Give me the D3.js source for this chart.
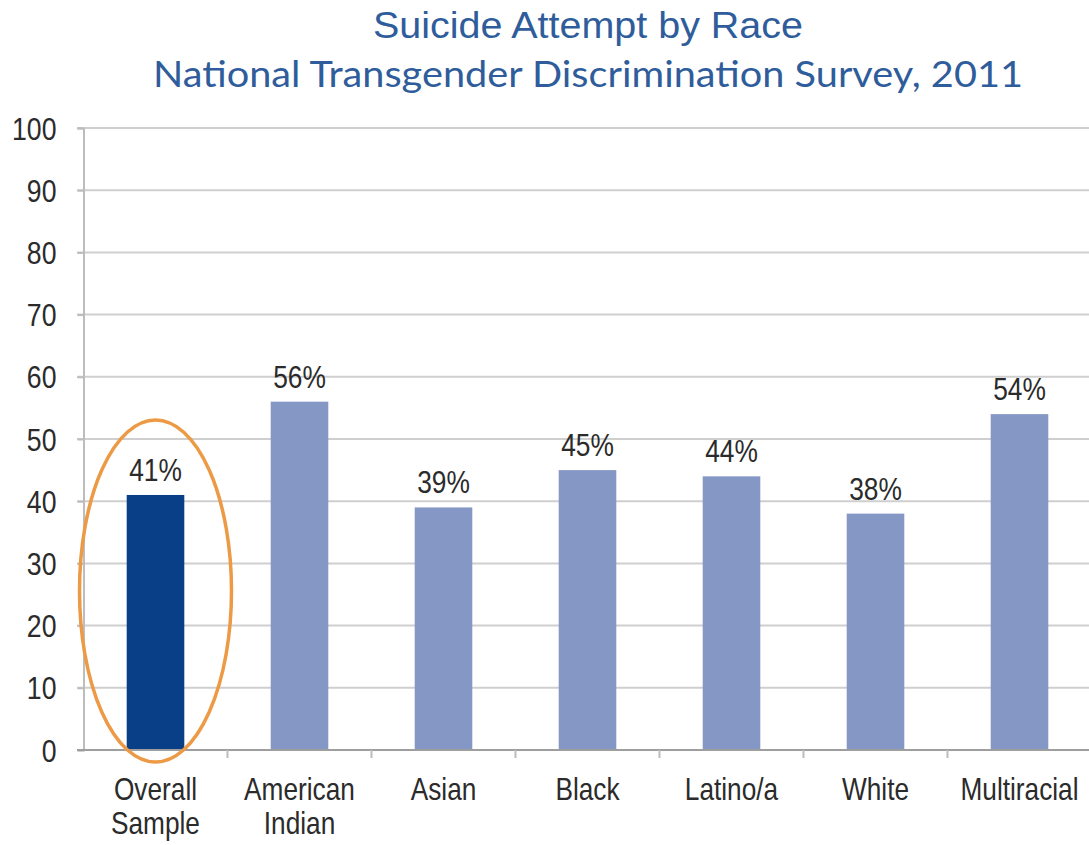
<!DOCTYPE html>
<html>
<head>
<meta charset="utf-8">
<script src="https://cdn.jsdelivr.net/npm/d3@7"></script>
<style>
  html, body { margin: 0; padding: 0; background: #fff; }
  svg { display: block; }
</style>
</head>
<body>
<svg id="chart" width="1089" height="845"></svg>
<script>
// Share of respondents reporting a suicide attempt, by race
const categories = [["Overall", "Sample"], ["American", "Indian"], ["Asian"], ["Black"], ["Latino/a"], ["White"], ["Multiracial"]];
const values = [41, 56, 39, 45, 44, 38, 54];
const yTicks = [0, 10, 20, 30, 40, 50, 60, 70, 80, 90, 100];
const titleLines = ["Suicide Attempt by Race", "National Transgender Discrimination Survey, 2011"];

const W = 1089, H = 845;
const plot = { left: 83.5, right: 1091.5, top: 128, bottom: 750 };
const sans = "'Liberation Sans', Arial, Helvetica, sans-serif";
const ink = "#2b2b2b";

const svg = d3.select("#chart");

const keys = categories.map(c => c.join(" "));
const x = d3.scaleBand().domain(keys).range([plot.left, plot.right]).paddingInner(0.6).paddingOuter(0.3);
const y = d3.scaleLinear().domain([0, 100]).range([plot.bottom, plot.top]);

// Titles
svg.append("text")
  .attr("x", 588).attr("y", 38)
  .attr("text-anchor", "middle")
  .attr("font-family", sans)
  .attr("font-size", 36)
  .attr("textLength", 430)
  .attr("lengthAdjust", "spacingAndGlyphs")
  .attr("fill", "#2f5d9b")
  .text(titleLines[0]);
svg.append("text")
  .attr("x", 588).attr("y", 87)
  .attr("text-anchor", "middle")
  .attr("font-family", "Lato, 'Open Sans', sans-serif")
  .attr("font-size", 36)
  .attr("textLength", 870)
  .attr("lengthAdjust", "spacingAndGlyphs")
  .attr("fill", "#2f5d9b")
  .text(titleLines[1]);

// Horizontal grid lines
svg.append("g")
  .selectAll("line")
  .data(yTicks.filter(d => d > 0))
  .join("line")
  .attr("x1", 77).attr("x2", W)
  .attr("y1", d => y(d)).attr("y2", d => y(d))
  .attr("stroke", "#cfcfcf")
  .attr("stroke-width", 2);

// Y axis with condensed tick labels
const yAxis = svg.append("g")
  .attr("transform", `translate(${plot.left},0)`)
  .call(d3.axisLeft(y).tickValues(yTicks).tickSize(6));
yAxis.select(".domain").attr("stroke", "#bdbdbd").attr("stroke-width", 2);
yAxis.selectAll(".tick line").attr("stroke", "#bdbdbd").attr("stroke-width", 2);
yAxis.selectAll(".tick text")
  .attr("x", 0)
  .attr("dy", "0.36em")
  .attr("transform", "translate(-27,0) scale(0.86,1)")
  .attr("font-family", sans)
  .attr("font-size", 31)
  .attr("fill", ink);

// Bars
svg.append("g")
  .selectAll("rect")
  .data(values)
  .join("rect")
  .attr("x", (d, i) => x(keys[i]))
  .attr("width", x.bandwidth())
  .attr("y", d => y(d))
  .attr("height", d => y(0) - y(d))
  .attr("fill", (d, i) => i === 0 ? "#083f86" : "#8497c5");

// Value labels
svg.append("g")
  .selectAll("text")
  .data(values)
  .join("text")
  .attr("transform", (d, i) => `translate(${x(keys[i]) + x.bandwidth() / 2},${y(d) - 14}) scale(0.85,1)`)
  .attr("text-anchor", "middle")
  .attr("font-family", sans)
  .attr("font-size", 31)
  .attr("fill", ink)
  .text(d => d + "%");

// Baseline and category separators
svg.append("line")
  .attr("x1", 77).attr("x2", W)
  .attr("y1", y(0)).attr("y2", y(0))
  .attr("stroke", "#9e9e9e").attr("stroke-width", 2);
const step = x.step();
svg.append("g")
  .selectAll("line")
  .data(d3.range(1, keys.length))
  .join("line")
  .attr("x1", i => x(keys[i]) - step * 0.3)
  .attr("x2", i => x(keys[i]) - step * 0.3)
  .attr("y1", y(0)).attr("y2", y(0) + 8)
  .attr("stroke", "#bdbdbd").attr("stroke-width", 2);

// Category labels
const cat = svg.append("g")
  .selectAll("text")
  .data(categories)
  .join("text")
  .attr("transform", (d, i) => `translate(${x(keys[i]) + x.bandwidth() / 2},800) scale(0.82,1)`)
  .attr("text-anchor", "middle")
  .attr("font-family", sans)
  .attr("font-size", 32)
  .attr("fill", ink);
cat.selectAll("tspan")
  .data(d => d)
  .join("tspan")
  .attr("x", 0)
  .attr("dy", (d, i) => i === 0 ? 0 : 34)
  .text(d => d);

// Highlight ring around the overall sample
svg.append("ellipse")
  .attr("cx", x(keys[0]) + x.bandwidth() / 2)
  .attr("cy", 591)
  .attr("rx", 76)
  .attr("ry", 171)
  .attr("fill", "none")
  .attr("stroke", "#ec9a45")
  .attr("stroke-width", 3.5);
</script>
</body>
</html>
